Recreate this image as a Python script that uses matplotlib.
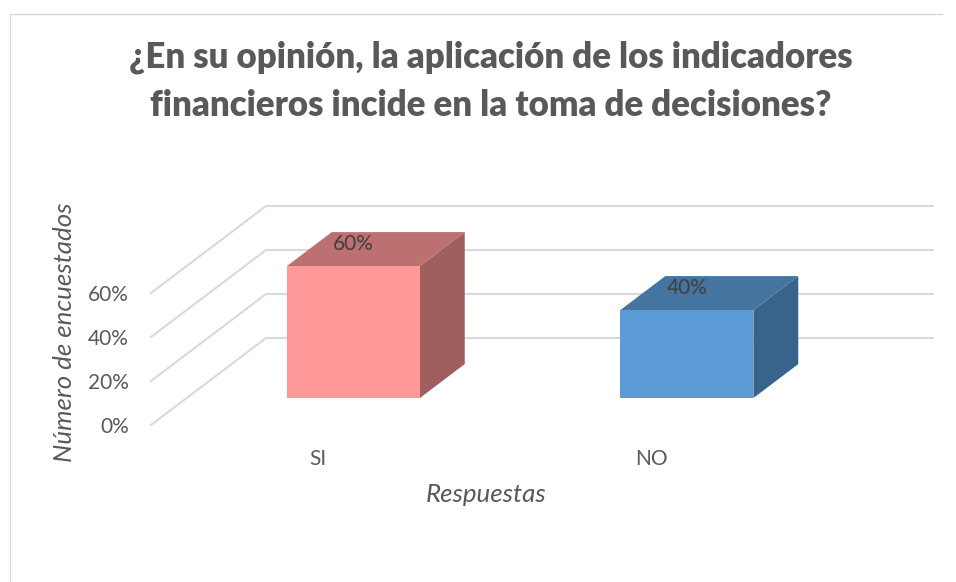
"""
3D-look column chart drawn on a plain 2D axes
"""
import matplotlib
matplotlib.use('Agg')
import matplotlib.pyplot as plt
from matplotlib.lines import Line2D
from matplotlib.patches import Polygon

categories = ['SI', 'NO']
values = [60, 40]
y_ticks = [0, 20, 40, 60]
tick_labels = ['0%', '20%', '40%', '60%']
data_labels = ['60%', '40%']
front_colors = ['#FF9999', '#5B9BD5']
top_colors = ['#BC7070', '#44749F']
side_colors = ['#A05F5F', '#38638A']

title = '¿En su opinión, la aplicación de los indicadores\nfinancieros incide en la toma de decisiones?'
W, H = 956, 582

plt.rcParams['font.family'] = ['Lato', 'DejaVu Sans']

fig = plt.figure(figsize=(W / 100, H / 100), dpi=100)
ax = fig.add_axes([151 / W, 1 - 425 / H, 667 / W, 132 / H])
ax.set_xlim(-0.5, 1.5)
ax.set_ylim(0, 60)
ax.patch.set_visible(False)
for s in ax.spines.values():
    s.set_visible(False)

# depth of the floor, in data units
DX = 115 / 333.5
DY = 87 / 2.2
BAR_W = 133 / 333.5


def proj(x, y, d):
    return (x + DX * d, y + DY * d)


# walls: gridlines run along the floor side then across the back
for v in y_ticks:
    x0, y0 = proj(-0.5, v, 0)
    x1, y1 = proj(-0.5, v, 1)
    x2, y2 = proj(1.5, v, 1)
    ax.plot([x0, x1, x2], [y0, y1, y2], color='#D9D9D9', lw=1.5, clip_on=False,
            solid_joinstyle='miter', zorder=1)

# bars
d0, d1 = 0.31, 0.70
for i, v in enumerate(values):
    xa, xb = i - BAR_W / 2, i + BAR_W / 2
    front = [proj(xa, 0, d0), proj(xb, 0, d0), proj(xb, v, d0), proj(xa, v, d0)]
    top = [proj(xa, v, d0), proj(xb, v, d0), proj(xb, v, d1), proj(xa, v, d1)]
    side = [proj(xb, 0, d0), proj(xb, 0, d1), proj(xb, v, d1), proj(xb, v, d0)]
    ax.add_patch(Polygon(side, fc=side_colors[i], ec='none', clip_on=False, zorder=2))
    ax.add_patch(Polygon(top, fc=top_colors[i], ec='none', clip_on=False, zorder=2))
    ax.add_patch(Polygon(front, fc=front_colors[i], ec='none', clip_on=False, zorder=3))
    cx, cy = proj(i, v, d0)
    ax.text(cx, cy + 10, data_labels[i], ha='center', va='center', fontsize=15,
            color='#404040', zorder=4)

ax.set_xticks(range(len(categories)))
ax.set_xticklabels(categories, fontsize=15, color='#595959')
ax.set_yticks(y_ticks)
ax.set_yticklabels(tick_labels, fontsize=15, color='#595959')
ax.tick_params(axis='both', length=0)
ax.tick_params(axis='x', pad=17.5)
ax.tick_params(axis='y', pad=16)

fig.text(486 / W, 1 - 495 / H, 'Respuestas', ha='center', va='center', fontsize=18.6,
         style='italic', color='#595959')
fig.text(65 / W, 1 - 332 / H, 'Número de encuestados', ha='center', va='center', rotation=90,
         fontsize=18.6, style='italic', color='#595959')
fig.text(491 / W, 1 - 81 / H, title, ha='center', va='center', fontsize=25, fontweight='heavy',
         color='#595959', linespacing=1.57)

# chart frame, only left and top edges show in the crop
fig.add_artist(Line2D([10 / W, 10 / W, 942 / W], [0, 1 - 13.5 / H, 1 - 13.5 / H],
                      color='#D9D9D9', lw=1))

fig.savefig('out.png', dpi=100)
